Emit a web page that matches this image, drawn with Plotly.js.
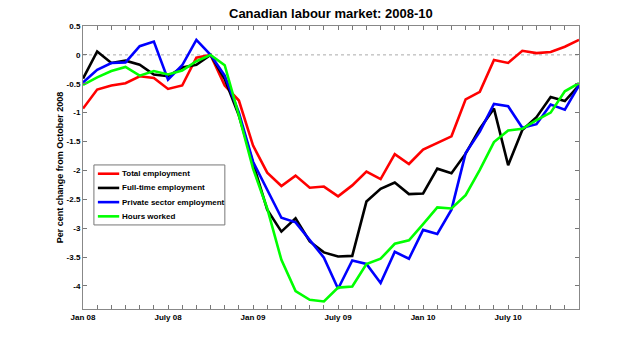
<!DOCTYPE html>
<html>
<head>
<meta charset="utf-8">
<script src="https://cdn.plot.ly/plotly-3.0.1.min.js"></script>
<style>
html,body{margin:0;padding:0;background:#fff;}
#chart{width:640px;height:348px;}
</style>
</head>
<body>
<div id="chart"></div>
<script>
// Months Jan 2008 .. Dec 2010 (index 0..35)
var months = [
 "Jan 08","Feb 08","Mar 08","Apr 08","May 08","Jun 08","Jul 08","Aug 08","Sep 08","Oct 08","Nov 08","Dec 08",
 "Jan 09","Feb 09","Mar 09","Apr 09","May 09","Jun 09","Jul 09","Aug 09","Sep 09","Oct 09","Nov 09","Dec 09",
 "Jan 10","Feb 10","Mar 10","Apr 10","May 10","Jun 10","Jul 10","Aug 10","Sep 10","Oct 10","Nov 10","Dec 10"
];
var tickLabels = [
 "Jan 08","","","","","","July 08","","","","","",
 "Jan 09","","","","","","July 09","","","","","",
 "Jan 10","","","","","","July 10","","","","",""
];
var totalEmployment = [
 -0.93,-0.60,-0.53,-0.49,-0.37,-0.40,-0.59,-0.53,-0.05,0.00,-0.53,-0.79,
 -1.57,-2.04,-2.27,-2.09,-2.30,-2.28,-2.45,-2.26,-2.02,-2.15,-1.72,-1.89,
 -1.64,-1.52,-1.41,-0.77,-0.64,-0.09,-0.14,0.07,0.03,0.05,0.14,0.26
];
var fullTimeEmployment = [
 -0.41,0.06,-0.14,-0.10,-0.17,-0.34,-0.37,-0.22,-0.17,0.00,-0.42,-1.05,
 -1.88,-2.68,-3.06,-2.83,-3.23,-3.42,-3.49,-3.48,-2.54,-2.32,-2.21,-2.41,
 -2.40,-1.97,-2.05,-1.71,-1.28,-0.93,-1.91,-1.30,-1.08,-0.73,-0.80,-0.53
];
var privateEmployment = [
 -0.48,-0.26,-0.14,-0.13,0.15,0.23,-0.43,-0.18,0.26,0.00,-0.36,-1.00,
 -1.85,-2.34,-2.82,-2.90,-3.21,-3.51,-4.05,-3.56,-3.62,-3.95,-3.41,-3.53,
 -3.03,-3.10,-2.68,-1.70,-1.33,-0.85,-0.89,-1.26,-1.20,-0.86,-0.95,-0.53
];
var hoursWorked = [
 -0.52,-0.39,-0.28,-0.21,-0.36,-0.28,-0.34,-0.27,-0.11,0.00,-0.18,-1.05,
 -1.97,-2.66,-3.55,-4.09,-4.24,-4.27,-4.03,-4.01,-3.62,-3.53,-3.27,-3.21,
 -2.93,-2.64,-2.66,-2.43,-1.99,-1.51,-1.31,-1.28,-1.13,-1.00,-0.63,-0.49
];
var seriesNames = ["Total employment","Full-time employment","Private sector employment","Hours worked"];
var seriesColors = ["#ff0000","#000000","#0000ff","#00ff00"];
var seriesData = [totalEmployment, fullTimeEmployment, privateEmployment, hoursWorked];
var yTicks = [-4,-3.5,-3,-2.5,-2,-1.5,-1,-0.5,0,0.5];

var idx = months.map(function(m,i){return i;});
var traces = seriesData.map(function(d,k){
  return {
    x: idx, y: d, type: 'scatter', mode: 'lines', name: seriesNames[k],
    line: {color: seriesColors[k], width: 2.6}, hoverinfo: 'skip', showlegend: false
  };
});

var FONT = 'Liberation Sans, Arial, sans-serif';
var tickFont = {family: FONT, size: 8, color: '#000', weight: 'bold'};

// Hand-drawn legend box (paper coordinates) to match the compact original legend
var legX0 = 0.022, legX1 = 0.286, legTop = 0.509, legBottom = 0.297;
var legRowTop = 0.478, legRowStep = 0.0502;
var legLineX0 = 0.030, legLineX1 = 0.073, legTextX = 0.075;
var shapes = [
  {type: 'line', xref: 'paper', x0: 0, x1: 1, yref: 'y', y0: 0, y1: 0,
   line: {color: '#aaa', width: 1, dash: 'dot'}, layer: 'below'},
  {type: 'rect', xref: 'paper', yref: 'paper', x0: legX0, x1: legX1, y0: legBottom, y1: legTop,
   fillcolor: '#fff', line: {color: '#777', width: 1}, layer: 'above'}
];
var annotations = [];
seriesNames.forEach(function(n, k){
  var yy = legRowTop - k*legRowStep;
  shapes.push({type: 'line', xref: 'paper', yref: 'paper', x0: legLineX0, x1: legLineX1, y0: yy, y1: yy,
               line: {color: seriesColors[k], width: 2.6}, layer: 'above'});
  annotations.push({xref: 'paper', yref: 'paper', x: legTextX, y: yy, xanchor: 'left', yanchor: 'middle',
                    text: '<b>' + n + '</b>', showarrow: false,
                    font: {family: FONT, size: 8, color: '#000'}});
});

var layout = {
  width: 640, height: 348,
  margin: {l: 83, r: 61, t: 26, b: 39},
  paper_bgcolor: '#fff', plot_bgcolor: '#fff',
  showlegend: false,
  title: {text: '<b>Canadian labour market: 2008-10</b>', x: 0.517, xanchor: 'center', y: 0.96, yanchor: 'middle',
          font: {family: FONT, size: 13, color: '#000'}},
  xaxis: {
    range: [0, 35], tickmode: 'array', tickvals: idx, ticktext: tickLabels,
    ticks: 'inside', ticklen: 4, tickcolor: '#777', tickwidth: 1,
    showline: true, linecolor: '#888', linewidth: 1, mirror: 'ticks',
    showgrid: false, zeroline: false, tickfont: tickFont, tickangle: 0
  },
  yaxis: {
    range: [-4.4, 0.5], tickmode: 'array', tickvals: yTicks, ticktext: yTicks.map(String),
    ticks: 'inside', ticklen: 4, tickcolor: '#777', tickwidth: 1,
    showline: true, linecolor: '#888', linewidth: 1, mirror: 'ticks',
    showgrid: false, zeroline: false, tickfont: tickFont, ticklabelstandoff: 0,
    title: {text: '<b>Per cent change from October 2008</b>', standoff: 1,
            font: {family: FONT, size: 9, color: '#000'}}
  },
  shapes: shapes,
  annotations: annotations
};
Plotly.newPlot('chart', traces, layout, {displayModeBar: false, staticPlot: true});
</script>
</body>
</html>
